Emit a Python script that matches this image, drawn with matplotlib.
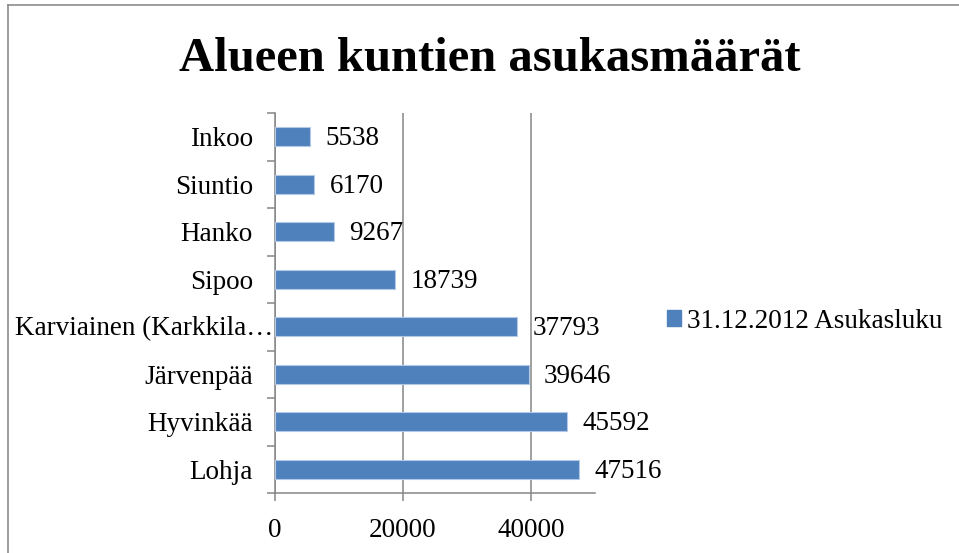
import matplotlib.pyplot as plt
from matplotlib.lines import Line2D
from matplotlib.patches import Patch

# data, bottom to top as drawn
kunnat = ["Lohja", "Hyvinkää", "Järvenpää", "Karviainen (Karkkila…",
          "Sipoo", "Hanko", "Siuntio", "Inkoo"]
asukkaat = [47516, 45592, 39646, 37793, 18739, 9267, 6170, 5538]
sarja = "31.12.2012 Asukasluku"
otsikko = "Alueen kuntien asukasmäärät"

plt.rcParams['font.family'] = ['Liberation Serif', 'DejaVu Serif']
plt.rcParams['font.size'] = 19.5

W, H = 959, 553
fig = plt.figure(figsize=(W / 100, H / 100), dpi=100)
ax = fig.add_axes([275 / W, 1 - 493 / H, (595 - 275) / W, (493 - 113) / H])

blue = '#4F81BD'
grey = '#868686'

y = list(range(len(kunnat)))
ax.barh(y, asukkaat, height=0.4, color=blue, edgecolor='#b3c9e6', linewidth=0.8, zorder=3)

for yi, v in zip(y, asukkaat):
    ax.annotate(str(v), (v, yi), xytext=(11, -1.5), textcoords='offset points',
                ha='left', va='center')

ax.set_xlim(0, 50000)
ax.set_ylim(-0.5, len(kunnat) - 0.5)
ax.set_xticks([0, 20000, 40000])
ax.xaxis.grid(True, color=grey, linewidth=1.1, zorder=0)
ax.set_axisbelow(True)

# category ticks between bars, labels centred on bars
long_one = 3  # this label is too long, Excel pushes it against the axis
ax.set_yticks([i - 0.5 for i in range(len(kunnat) + 1)])
ax.set_yticklabels([])
ax.set_yticks(y, minor=True)
ax.set_yticklabels(['' if i == long_one else k for i, k in enumerate(kunnat)], minor=True)
ax.annotate(kunnat[long_one], (0, long_one), xytext=(-1, -1), textcoords='offset points',
            ha='right', va='center')
ax.tick_params(axis='y', which='minor', length=0, pad=16)
ax.tick_params(axis='y', which='major', length=6, width=1.1, color=grey)
ax.tick_params(axis='x', length=6, width=1.1, color=grey, pad=12)

for s in ['top', 'right']:
    ax.spines[s].set_visible(False)
for s in ['left', 'bottom']:
    ax.spines[s].set_color(grey)
    ax.spines[s].set_linewidth(1.1)

fig.text(490 / W, 1 - 71 / H, otsikko, ha='center', va='baseline',
         fontsize=35, fontweight='bold')

fig.legend(handles=[Patch(facecolor=blue, edgecolor=blue)], labels=[sarja],
           loc='center left', bbox_to_anchor=(667 / W, 1 - 321 / H),
           frameon=False, handlelength=0.52, handleheight=0.52,
           handletextpad=0.22, borderaxespad=0, borderpad=0)

# chart area border (only top and left edges are inside the picture)
fig.add_artist(Line2D([7.5 / W, 1], [1 - 4.5 / H, 1 - 4.5 / H], color='#8c8c8c', lw=1.2))
fig.add_artist(Line2D([7.5 / W, 7.5 / W], [0, 1 - 4.5 / H], color='#8c8c8c', lw=1.2))

fig.savefig('out.png', dpi=100)
